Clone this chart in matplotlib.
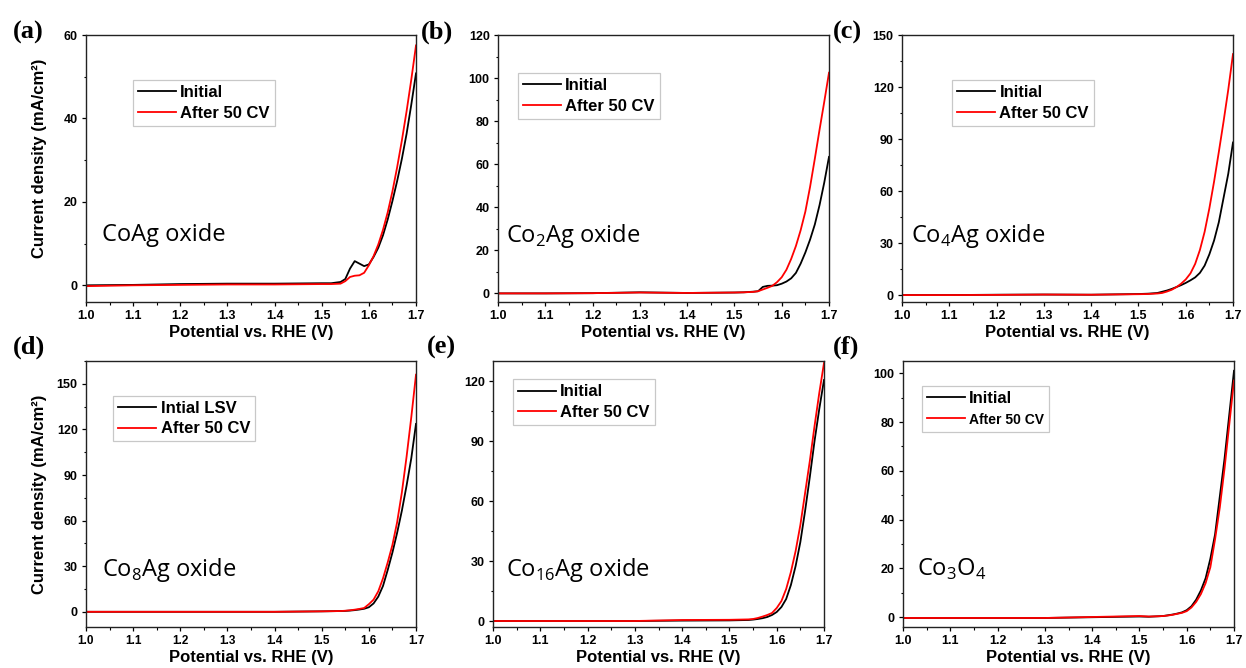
import matplotlib
matplotlib.use("Agg")
import matplotlib.pyplot as plt
from matplotlib.ticker import MultipleLocator, FormatStrFormatter

plt.rcParams['font.family'] = ['Liberation Sans', 'DejaVu Sans']
plt.rcParams['font.weight'] = 'bold'
plt.rcParams['axes.labelweight'] = 'bold'

# Potential grid (V vs. RHE) shared by all LSV curves
potential = [1.00, 1.10, 1.20, 1.30, 1.40, 1.50, 1.52, 1.54, 1.55, 1.56, 1.57, 1.58,
             1.59, 1.60, 1.61, 1.62, 1.63, 1.64, 1.65, 1.66, 1.67, 1.68, 1.69, 1.70]

# Current density (mA/cm2), initial LSV and after 50 CV cycles
coag_initial = [0.0, 0.1, 0.3, 0.4, 0.4, 0.5, 0.5, 0.8, 1.5, 4.0, 5.8, 5.2,
                4.6, 5.0, 6.8, 9.0, 12.0, 15.8, 20.2, 25.0, 30.3, 36.3, 43.3, 50.8]
coag_after = [-0.2, 0.0, 0.1, 0.2, 0.2, 0.3, 0.3, 0.4, 1.0, 2.0, 2.3, 2.4,
              3.0, 4.8, 7.0, 9.8, 13.3, 17.5, 22.5, 28.3, 34.7, 41.7, 49.3, 57.5]

co2ag_initial = [0.0, 0.0, 0.1, 0.5, 0.2, 0.4, 0.5, 0.8, 1.0, 3.0, 3.5, 3.6,
                 3.8, 4.5, 5.5, 7.0, 9.5, 13.8, 19.0, 25.0, 32.0, 41.0, 51.5, 63.4]
co2ag_after = [0.0, 0.0, 0.1, 0.4, 0.2, 0.4, 0.5, 0.7, 1.0, 1.8, 2.6, 3.5,
               5.2, 7.5, 11.0, 16.0, 22.0, 29.3, 38.0, 49.5, 62.5, 76.0, 89.0, 102.5]

co4ag_initial = [0.0, 0.0, 0.2, 0.3, 0.2, 0.6, 0.8, 1.2, 1.9, 2.6, 3.5, 4.6,
                 5.7, 7.0, 8.5, 10.2, 12.8, 17.0, 23.5, 31.5, 42.0, 56.0, 70.0, 88.0]
co4ag_after = [0.0, 0.0, 0.1, 0.3, 0.2, 0.5, 0.6, 0.9, 1.2, 2.0, 3.0, 4.5,
               6.5, 9.0, 12.5, 18.0, 26.0, 36.5, 50.0, 65.5, 82.5, 100.0, 118.5, 139.0]

co8ag_initial = [0.0, 0.0, 0.0, 0.0, 0.0, 0.3, 0.4, 0.5, 0.6, 0.8, 1.1, 1.5,
                 2.0, 3.0, 5.5, 10.0, 17.0, 27.5, 39.0, 52.0, 66.5, 83.0, 101.0, 123.6]
co8ag_after = [0.0, 0.0, 0.0, 0.0, 0.0, 0.3, 0.4, 0.5, 0.7, 1.0, 1.4, 1.9,
               2.5, 5.0, 8.0, 13.5, 22.0, 32.5, 44.0, 59.0, 78.5, 102.0, 128.0, 156.0]

co16ag_initial = [0.0, 0.0, 0.0, 0.0, 0.2, 0.3, 0.4, 0.5, 0.7, 1.0, 1.4, 2.0,
                  3.0, 4.5, 7.0, 11.0, 18.0, 27.5, 39.5, 55.0, 72.0, 90.0, 106.0, 120.5]
co16ag_after = [0.0, 0.0, 0.0, 0.0, 0.5, 0.6, 0.7, 0.8, 1.0, 1.5, 2.2, 3.0,
                4.0, 6.5, 10.0, 16.0, 24.5, 35.0, 48.0, 64.0, 80.0, 97.5, 114.0, 129.0]

co3o4_initial = [-0.3, -0.3, -0.3, -0.3, 0.0, 0.3, 0.2, 0.4, 0.5, 0.8, 1.1, 1.5,
                 2.0, 2.9, 4.5, 7.2, 11.0, 16.0, 24.0, 34.0, 49.5, 65.0, 83.0, 101.0]
co3o4_after = [-0.3, -0.3, -0.3, -0.3, 0.1, 0.5, 0.3, 0.4, 0.5, 0.7, 1.0, 1.4,
               1.8, 2.5, 4.0, 6.3, 9.5, 14.0, 20.5, 32.0, 45.0, 61.0, 79.0, 97.0]

sample_names = ["CoAg oxide", "Co$_\\mathregular{2}$Ag oxide", "Co$_\\mathregular{4}$Ag oxide",
                "Co$_\\mathregular{8}$Ag oxide", "Co$_\\mathregular{16}$Ag oxide",
                "Co$_\\mathregular{3}$O$_\\mathregular{4}$"]
panel_letters = ["(a)", "(b)", "(c)", "(d)", "(e)", "(f)"]
initial_labels = ["Initial", "Initial", "Initial", "Intial LSV", "Initial", "Initial"]
after_label = "After 50 CV"

curves = [(coag_initial, coag_after), (co2ag_initial, co2ag_after),
          (co4ag_initial, co4ag_after), (co8ag_initial, co8ag_after),
          (co16ag_initial, co16ag_after), (co3o4_initial, co3o4_after)]

W, H = 1246, 668
# axes boxes in pixels: left, top, right, bottom
boxes = [(86, 35, 416, 302), (498, 35, 829, 302), (902, 35, 1233, 302),
         (86, 361, 416, 627), (493, 361, 824, 627), (903, 361, 1234, 627)]
ylims = [(-4, 60), (-4, 120), (-4, 150), (-10, 165), (-3, 130), (-4, 105)]
ysteps = [20, 20, 30, 30, 30, 20]
legend_pos = [(0.142, 0.831), (0.06, 0.858), (0.151, 0.831),
              (0.082, 0.870), (0.06, 0.931), (0.056, 0.906)]
name_pos = [(0.048, 0.23), (0.024, 0.226), (0.027, 0.226),
            (0.048, 0.193), (0.039, 0.193), (0.041, 0.193)]
letter_pos = [(13, 39), (421, 39), (833, 39), (13, 354), (427, 354), (833, 354)]

fig = plt.figure(figsize=(W / 100, H / 100), dpi=100)

for i in range(6):
    l, t, r, b = boxes[i]
    ax = fig.add_axes([l / W, 1 - b / H, (r - l) / W, (b - t) / H])
    init, after = curves[i]
    ax.plot(potential, init, color='black', lw=1.3, label=initial_labels[i])
    ax.plot(potential, after, color='#ff0000', lw=1.3, label=after_label)

    ax.set_xlim(1.0, 1.7)
    ax.set_ylim(*ylims[i])
    ax.xaxis.set_major_locator(MultipleLocator(0.1))
    ax.xaxis.set_minor_locator(MultipleLocator(0.05))
    ax.xaxis.set_major_formatter(FormatStrFormatter('%.1f'))
    ax.yaxis.set_major_locator(MultipleLocator(ysteps[i]))
    ax.yaxis.set_minor_locator(MultipleLocator(ysteps[i] / 2))
    ax.tick_params(which='major', direction='out', length=3, width=0.9,
                   labelsize=9, pad=3, top=False, right=False)
    ax.tick_params(which='minor', direction='out', length=1.8, width=0.8,
                   top=False, right=False)
    if i == 3:
        ax.tick_params(axis='x', labelsize=8.5)
    for sp in ax.spines.values():
        sp.set_linewidth(1.0)
        sp.set_color('#222222')

    ax.set_xlabel("Potential vs. RHE (V)", fontsize=12, labelpad=2)
    if i % 3 == 0:
        ax.set_ylabel("Current density (mA/cm²)", fontsize=12)
        ax.yaxis.set_label_coords(-0.119, 0.54 if i == 0 else 0.5)

    leg = ax.legend(loc='upper left', bbox_to_anchor=legend_pos[i], fontsize=12,
                    frameon=True, fancybox=False, framealpha=1, edgecolor='#c8c8c8',
                    handlelength=2.3, handletextpad=0.25, borderpad=0.3,
                    labelspacing=0.35, borderaxespad=0)
    leg.get_frame().set_linewidth(0.9)
    if i == 5:
        leg.get_texts()[1].set_fontsize(10)

    ax.text(name_pos[i][0], name_pos[i][1], sample_names[i], transform=ax.transAxes,
            fontsize=17, fontweight='normal', family='Open Sans', va='baseline', ha='left')

    lx, ly = letter_pos[i]
    fig.text(lx / W, 1 - ly / H, panel_letters[i], fontsize=19, fontweight='bold',
             family='Liberation Serif', va='baseline', ha='left')

fig.savefig("out.png", dpi=100)
